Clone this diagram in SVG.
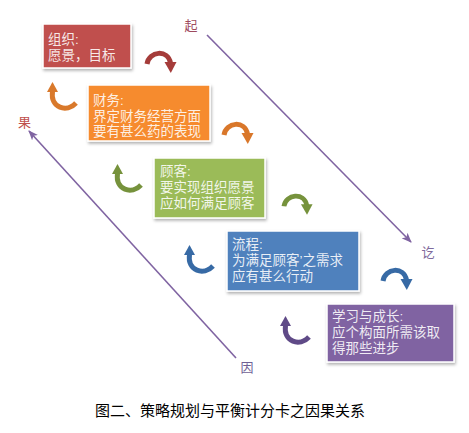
<svg xmlns="http://www.w3.org/2000/svg" xmlns:xlink="http://www.w3.org/1999/xlink" width="469" height="433" viewBox="0 0 469 433">
<style>
.box{stroke:#ffffff;stroke-width:1.5;filter:url(#sh)}
.bt{font-family:"Liberation Sans","Noto Sans CJK SC",sans-serif;font-size:13.5px;fill:#ffffff;fill-opacity:0.88}
.lbl{font-family:"Noto Sans CJK SC",sans-serif;font-size:13px}
.cap{font-family:"Noto Sans CJK SC",sans-serif;font-size:15px;fill:#000}
.ln{stroke:#8064A2;stroke-width:1.6;fill:none;marker-end:url(#ah)}
</style>
<defs>
<filter id="sh" x="-10%" y="-10%" width="125%" height="135%">
<feDropShadow dx="1" dy="2" stdDeviation="1.5" flood-color="#000" flood-opacity="0.3"/>
</filter>
<marker id="ah" markerWidth="10" markerHeight="8" refX="9" refY="4" orient="auto" markerUnits="userSpaceOnUse">
<path d="M0,0 L10,4 L0,8 L2.5,4 z" fill="#8064A2"/>
</marker>
<g id="down">
<path d="M2,15 C4,2 23,0 25.5,14" fill="none" stroke="currentColor" stroke-width="5"/>
<polygon points="19.5,13 31.5,13 25.8,24" fill="currentColor"/>
</g>
<g id="up">
<polygon points="5.5,0 0,10 11,10" fill="currentColor"/>
<path d="M5.5,9.5 C3,26 20,31 29,21" fill="none" stroke="currentColor" stroke-width="5"/>
</g>
</defs>
<rect width="469" height="433" fill="#ffffff"/>

<g id="connectors">
<line class="ln" x1="207" y1="35" x2="411" y2="242"/>
<line class="ln" x1="236" y1="358" x2="29" y2="131"/>
<use xlink:href="#down" transform="translate(145,49)" color="#A53C3A"/>
<use xlink:href="#up" transform="translate(47,82)" color="#D9792B"/>
<use xlink:href="#down" transform="translate(222,120)" color="#D9772A"/>
<use xlink:href="#up" transform="translate(112,164)" color="#76923C"/>
<use xlink:href="#down" transform="translate(282,192) scale(0.97,0.95)" color="#76923C"/>
<use xlink:href="#up" transform="translate(184,245)" color="#376AA5"/>
<use xlink:href="#down" transform="translate(381,266)" color="#376AA5"/>
<use xlink:href="#up" transform="translate(280,316)" color="#5F4A87"/>
</g>

<g id="labels">
<text class="lbl" x="191" y="30" text-anchor="middle" fill="#9E4A5E">起</text>
<text class="lbl" x="24.5" y="127" text-anchor="middle" fill="#C0504D" font-size="14">果</text>
<text class="lbl" x="428" y="257" text-anchor="middle" fill="#7E6A9C">讫</text>
<text class="lbl" x="247" y="372" text-anchor="middle" fill="#6F5F95">因</text>
</g>

<g id="node-org">
<rect class="box" x="43" y="24" width="88" height="44" fill="#C0504D"/>
<text class="bt" x="48" y="44">组织:</text>
<text class="bt" x="48" y="59.5">愿景，目标</text>
</g>

<g id="node-finance">
<rect class="box" x="88" y="85" width="122" height="56" fill="#F68B2E"/>
<text class="bt" x="93" y="105">财务:</text>
<text class="bt" x="93" y="120.5">界定财务经营方面</text>
<text class="bt" x="93" y="136">要有甚么药的表现</text>
</g>

<g id="node-customer">
<rect class="box" x="154" y="158" width="111" height="60" fill="#9BBB59"/>
<text class="bt" x="160" y="176">顾客:</text>
<text class="bt" x="160" y="192">要实现组织愿景</text>
<text class="bt" x="160" y="208">应如何满足顾客</text>
</g>

<g id="node-process">
<rect class="box" x="227" y="231" width="132" height="60" fill="#4F81BD"/>
<text class="bt" x="232" y="249">流程:</text>
<text class="bt" x="232" y="265">为满足顾客’之需求</text>
<text class="bt" x="232" y="281">应有甚么行动</text>
</g>

<g id="node-learning">
<rect class="box" x="327" y="304" width="127" height="58" fill="#8064A2"/>
<text class="bt" x="332" y="321">学习与成长:</text>
<text class="bt" x="332" y="337">应个构面所需该取</text>
<text class="bt" x="332" y="352.5">得那些进步</text>
</g>

<text class="cap" x="95" y="416">图二、策略规划与平衡计分卡之因果关系</text>
</svg>
